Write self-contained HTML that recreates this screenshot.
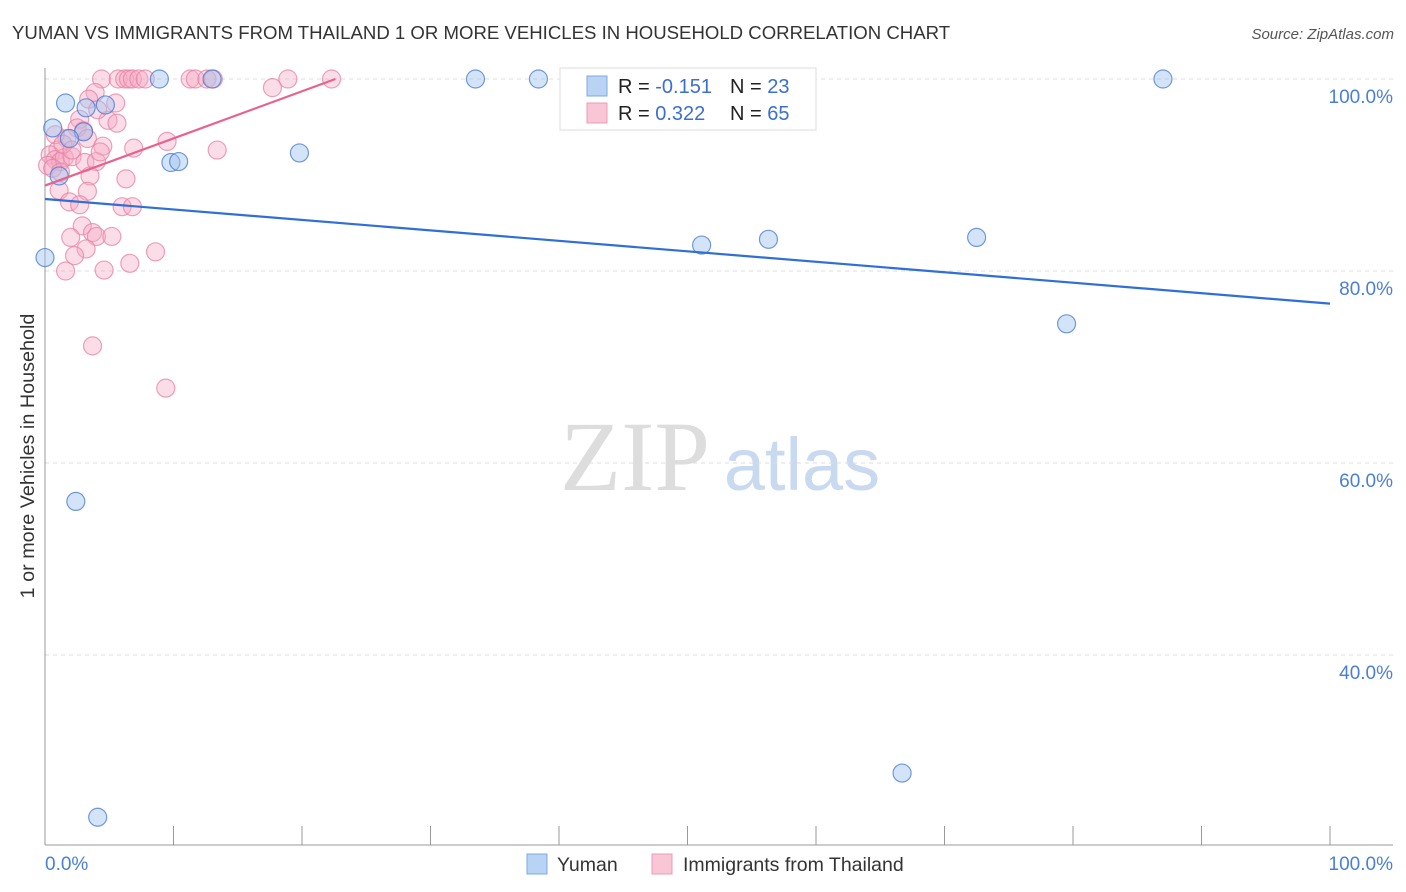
<!DOCTYPE html>
<html><head><meta charset="utf-8"><style>
body{margin:0;background:#fff;font-family:"Liberation Sans",sans-serif;}
#wrap{position:relative;width:1406px;height:892px;overflow:hidden;}
</style></head><body>
<div id="wrap">
<svg id="svg" width="1406" height="892" xmlns="http://www.w3.org/2000/svg">
<text x="12" y="39" font-size="18.6" fill="#333">YUMAN VS IMMIGRANTS FROM THAILAND 1 OR MORE VEHICLES IN HOUSEHOLD CORRELATION CHART</text>
<text x="1394" y="39" font-size="15" fill="#555" font-style="italic" text-anchor="end">Source: ZipAtlas.com</text>
<text x="34" y="456" font-size="19.8" fill="#333" text-anchor="middle" transform="rotate(-90 34 456)">1 or more Vehicles in Household</text>
<g><text x="635" y="490" font-size="100" fill="#ddd" font-family="Liberation Serif,serif" text-anchor="middle">ZIP</text><text x="802" y="490" font-size="74" fill="#c9d9f0" text-anchor="middle">atlas</text></g>
<g id="grid"></g><g id="axes"></g><g id="marks"></g>
<g>
<rect x="560" y="68" width="256" height="62" fill="#fff" stroke="#ddd"/>
<rect x="587" y="76" width="20" height="20" fill="#b9d3f5" stroke="#7ea8e0"/>
<rect x="587" y="103" width="20" height="20" fill="#f9c6d6" stroke="#ec9bb6"/>
<text x="618" y="93" font-size="20" fill="#222">R = <tspan fill="#3a6fd0">-0.151</tspan></text>
<text x="730" y="93" font-size="20" fill="#222">N = <tspan fill="#3a6fd0">23</tspan></text>
<text x="618" y="120" font-size="20" fill="#222">R = <tspan fill="#3a6fd0"> 0.322</tspan></text>
<text x="730" y="120" font-size="20" fill="#222">N = <tspan fill="#3a6fd0">65</tspan></text>
</g>
<g>
<rect x="527" y="854" width="20" height="20" fill="#b9d3f5" stroke="#7ea8e0"/>
<text x="557" y="871" font-size="19.5" fill="#333">Yuman</text>
<rect x="652" y="854" width="20" height="20" fill="#f9c6d6" stroke="#ec9bb6"/>
<text x="683" y="871" font-size="19.5" fill="#333">Immigrants from Thailand</text>
</g>
</svg>
</div>
<script>
const blueX=[1.6,3.2,4.7,0.6,3.0,1.9,1.1,0,8.9,13.0,9.8,10.4,19.8,33.5,38.4,51.1,56.3,72.5,79.5,87.0,66.7,4.1,2.4];
const blueY=[97.5,97.0,97.3,94.9,94.5,93.8,89.9,81.4,100,100,91.3,91.4,92.3,100,100,82.7,83.3,83.5,74.5,100,27.7,23.1,56.0];
const pinkX=[4.4,5.7,6.2,6.5,6.8,7.3,11.3,11.7,12.6,13.1,18.9,22.3,17.7,3.9,3.4,5.5,2.7,4.9,5.6,2.5,3.0,1.7,3.3,9.5,13.4,6.9,4.5,1.0,0.4,0.8,1.2,1.5,2.1,3.1,4.0,0.2,0.6,1.2,3.5,6.3,1.1,3.3,1.9,2.7,6.0,6.8,2.9,3.7,4.0,5.2,2.0,3.2,2.3,8.6,6.6,4.6,1.6,3.7,9.4,0.8,1.4,4.1,7.8,2.1,4.3];
const pinkY=[100,100,100,100,100,100,100,100,100,100,100,100,99.1,98.6,97.9,97.5,95.8,95.7,95.4,94.9,94.6,93.8,93.8,93.5,92.6,92.8,93.0,92.6,92.1,91.6,91.4,91.8,91.9,91.3,91.4,91.0,90.7,90.3,89.9,89.6,88.4,88.3,87.2,86.9,86.7,86.7,84.7,84.0,83.6,83.6,83.5,82.3,81.6,82.0,80.8,80.1,80.0,72.2,67.8,94.2,93.2,96.8,100,92.6,92.4];
const blueTrendX=[0,100], blueTrendY=[87.5,76.6];
const pinkTrendX=[0,22.6], pinkTrendY=[88.9,100];
const yTicks=[100,80,60,40];
const yTickLabels=["100.0%","80.0%","60.0%","40.0%"];
const xTickVals=[0,10,20,30,40,50,60,70,80,90,100];
const NS="http://www.w3.org/2000/svg";
const sx=v=>45+v*12.85, sy=v=>79+(100-v)*9.6;
function mk(tag,attrs,parent){const e=document.createElementNS(NS,tag);for(const k in attrs)e.setAttribute(k,attrs[k]);parent.appendChild(e);return e;}
const grid=document.getElementById('grid'),axes=document.getElementById('axes'),marks=document.getElementById('marks');
yTicks.forEach((t,i)=>{
 const l=mk('line',{x1:45,x2:1393,y1:sy(t),y2:sy(t),stroke:'#ddd','stroke-dasharray':'4,4'},grid);
 
 
 const tx=mk('text',{x:1393,y:sy(t)+24,'font-size':19,fill:'#4a7fd6','text-anchor':'end'},axes);
 tx.textContent=yTickLabels[i];
 
 
});
mk('line',{x1:45,x2:45,y1:68,y2:845,stroke:'#999'},axes);
mk('line',{x1:45,x2:1393,y1:845,y2:845,stroke:'#999'},axes);
xTickVals.forEach(t=>{
 const l=mk('line',{x1:sx(t),x2:sx(t),y1:826,y2:845,stroke:'#999'},axes);
 
 
});
const x0=mk('text',{x:45,y:870,'font-size':19,fill:'#4a7fd6'},axes);x0.textContent='0.0%';


const x1=mk('text',{x:1393,y:870,'font-size':19,fill:'#4a7fd6','text-anchor':'end'},axes);x1.textContent='100.0%';


pinkX.forEach((v,i)=>{
 const c=mk('circle',{cx:sx(v),cy:sy(pinkY[i]),r:9,fill:'rgba(246,170,195,0.4)',stroke:'rgba(232,130,165,0.75)','stroke-width':1.2},marks);
 
 
});
blueX.forEach((v,i)=>{
 const c=mk('circle',{cx:sx(v),cy:sy(blueY[i]),r:9,fill:'rgba(160,195,240,0.45)',stroke:'rgba(70,120,210,0.75)','stroke-width':1.2},marks);
 
 
});
const bt=mk('line',{x1:sx(blueTrendX[0]),y1:sy(blueTrendY[0]),x2:sx(blueTrendX[1]),y2:sy(blueTrendY[1]),stroke:'#2f6fd6','stroke-width':2.2},marks);


const pt=mk('line',{x1:sx(pinkTrendX[0]),y1:sy(pinkTrendY[0]),x2:sx(pinkTrendX[1]),y2:sy(pinkTrendY[1]),stroke:'#e8628e','stroke-width':2.2},marks);


</script>
</body></html>
